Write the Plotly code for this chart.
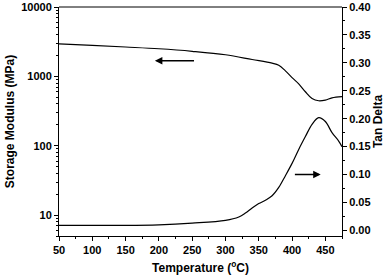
import plotly.graph_objects as go

temp_e = [50, 100, 150, 200, 250, 300, 340, 370, 380, 390, 400, 410, 420, 430, 440, 450, 460, 475]
storage_modulus = [2950, 2800, 2650, 2500, 2300, 2050, 1750, 1550, 1450, 1200, 960, 780, 600, 480, 445, 455, 490, 510]

temp_t = [50, 100, 150, 200, 250, 300, 320, 330, 340, 350, 360, 370, 380, 390, 400, 410, 420, 430, 440, 450, 460, 470, 475]
tan_delta = [0.009, 0.009, 0.009, 0.010, 0.013, 0.018, 0.024, 0.031, 0.040, 0.048, 0.054, 0.062, 0.077, 0.098, 0.120,
             0.145, 0.168, 0.190, 0.202, 0.195, 0.175, 0.160, 0.150]

FONT = "Liberation Sans"

fig = go.Figure()
fig.add_trace(go.Scatter(x=temp_e, y=storage_modulus, mode="lines", line=dict(color="black", width=1.2, shape="spline"),
                         yaxis="y", showlegend=False))
fig.add_trace(go.Scatter(x=temp_t, y=tan_delta, mode="lines", line=dict(color="black", width=1.2, shape="spline"),
                         yaxis="y2", showlegend=False))

fig.add_annotation(x=194, y=3.225, ax=255, ay=3.225, xref="x", yref="y", axref="x", ayref="y",
                   showarrow=True, arrowhead=2, arrowsize=1, arrowwidth=1.5, arrowcolor="black", text="")
fig.add_annotation(x=443, y=0.10, ax=402, ay=0.10, xref="x", yref="y2", axref="x", ayref="y2",
                   showarrow=True, arrowhead=2, arrowsize=1, arrowwidth=1.5, arrowcolor="black", text="")

# top frame line
fig.add_shape(type="line", xref="paper", yref="paper", x0=0, x1=1, y0=1, y1=1,
              line=dict(color="black", width=1))

tickfont = dict(family=FONT, size=11, color="black", weight="bold")
titlefont = dict(family=FONT, size=12, color="black", weight="bold")

fig.update_layout(
    width=385, height=279,
    margin=dict(l=59, r=43, t=7, b=43, autoexpand=False),
    paper_bgcolor="white", plot_bgcolor="white",
    xaxis=dict(range=[50, 475], tickvals=[50, 100, 150, 200, 250, 300, 350, 400, 450],
               ticks="outside", ticklen=4, tickwidth=1, tickcolor="black",
               minor=dict(ticks="outside", ticklen=2, dtick=25, tick0=25, tickcolor="black"),
               showline=True, linecolor="black", linewidth=1, showgrid=False, zeroline=False,
               tickfont=tickfont, automargin=False, ticklabeloverflow="allow",
               title=dict(text="Temperature (<sup>o</sup>C)", font=titlefont, standoff=8)),
    yaxis=dict(type="log", range=[0.69897, 4], tickvals=[10, 100, 1000, 10000], ticktext=["10", "100", "1000", "10000"],
               ticks="outside", ticklen=4, tickwidth=1, tickcolor="black",
               minor=dict(ticks="outside", ticklen=2, tickcolor="black",
                          tickvals=[5, 6, 7, 8, 9, 20, 30, 40, 50, 60, 70, 80, 90, 200, 300, 400, 500, 600, 700, 800, 900,
                                    2000, 3000, 4000, 5000, 6000, 7000, 8000, 9000]),
               showline=True, linecolor="black", linewidth=1, showgrid=False, zeroline=False,
               tickfont=tickfont, automargin=False, ticklabeloverflow="allow",
               title=dict(text="Storage Modulus (MPa)", font=titlefont, standoff=4)),
    yaxis2=dict(overlaying="y", side="right", range=[-0.01, 0.40],
                tickvals=[0.0, 0.05, 0.10, 0.15, 0.20, 0.25, 0.30, 0.35, 0.40], tickformat=".2f",
                ticks="outside", ticklen=4, tickwidth=1, tickcolor="black",
                minor=dict(ticks="outside", ticklen=2, dtick=0.025, tick0=0.025, tickcolor="black"),
                showline=True, linecolor="black", linewidth=1, showgrid=False, zeroline=False,
                tickfont=tickfont, automargin=False, ticklabeloverflow="allow",
                title=dict(text="Tan Delta", font=titlefont, standoff=4)),
)

fig.write_html("out.html", config={"displayModeBar": False})

with open("out.html", "r", encoding="utf-8") as f:
    html = f.read()
html = html.replace("<body>", '<body style="margin:0;padding:0;overflow:hidden">', 1)
with open("out.html", "w", encoding="utf-8") as f:
    f.write(html)
